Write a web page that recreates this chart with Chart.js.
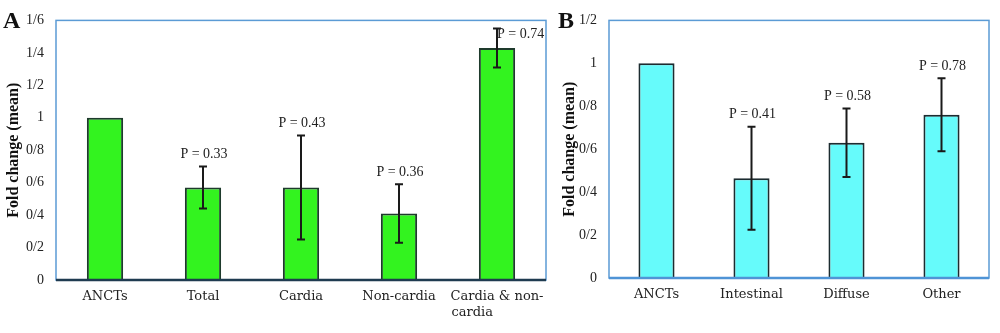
<!DOCTYPE html>
<html>
<head>
<meta charset="utf-8">
<script src="https://cdn.jsdelivr.net/npm/chart.js@4"></script>
<style>
  body { margin: 0; background: #fff; }
  .wrap { position: absolute; top: 0; height: 333px; }
  #wa { left: 0; width: 556px; }
  #wb { left: 556px; width: 444px; }
</style>
</head>
<body>
<div class="wrap" id="wa"><canvas id="chartA"></canvas></div>
<div class="wrap" id="wb"><canvas id="chartB"></canvas></div>
<script>
// panel A - tumour location
const catsA = ['ANCTs', 'Total', 'Cardia', 'Non-cardia', ['Cardia & non-', 'cardia            ']];
const meanA = [1.0, 0.57, 0.57, 0.41, 1.43];
const errA = [0, 0.13, 0.32, 0.18, 0.12];
const pA = ['', 'P = 0.33', 'P = 0.43', 'P = 0.36', 'P = 0.74'];

// panel B - histological type
const catsB = ['ANCTs', 'Intestinal', 'Diffuse', 'Other'];
const meanB = [1.0, 0.465, 0.63, 0.76];
const errB = [0, 0.24, 0.16, 0.17];
const pB = ['', 'P = 0.41', 'P = 0.58', 'P = 0.78'];

const serif = "'Liberation Serif', 'DejaVu Serif', serif";
const wide = "'DejaVu Serif', serif";
const txt = '#222';

const errPlugin = {
    id: 'errbars',
    afterDatasetsDraw(chart, args, opts) {
        const ctx = chart.ctx, y = chart.scales.y;
        const meta = chart.getDatasetMeta(0);
        const vals = chart.data.datasets[0].data;
        ctx.save();
        ctx.strokeStyle = '#1a1a1a';
        ctx.lineWidth = 2;
        meta.data.forEach((bar, i) => {
            const e = opts.errors[i];
            if (!e) return;
            const top = y.getPixelForValue(vals[i] + e), bot = y.getPixelForValue(vals[i] - e);
            ctx.beginPath();
            ctx.moveTo(bar.x, top); ctx.lineTo(bar.x, bot);
            ctx.moveTo(bar.x - 4, top); ctx.lineTo(bar.x + 4, top);
            ctx.moveTo(bar.x - 4, bot); ctx.lineTo(bar.x + 4, bot);
            ctx.stroke();
            const lab = opts.labels[i];
            if (!lab) return;
            ctx.fillStyle = txt;
            ctx.font = '14px ' + serif;
            ctx.textBaseline = 'middle';
            if (opts.inside && opts.inside[i]) {
                ctx.textAlign = 'left';
                ctx.fillText(lab, bar.x, top + 6);
            } else {
                ctx.textAlign = 'center';
                ctx.fillText(lab, bar.x + 1, top - 12);
            }
        });
        ctx.restore();
    },
    afterDraw(chart, args, opts) {
        const ctx = chart.ctx, a = chart.chartArea;
        ctx.save();
        ctx.strokeStyle = '#5b9bd5';
        ctx.lineWidth = 1.5;
        ctx.strokeRect(a.left, a.top, a.right - a.left, a.bottom - a.top);
        ctx.strokeStyle = opts.baseColor;
        ctx.lineWidth = 2.5;
        ctx.beginPath();
        ctx.moveTo(a.left, a.bottom); ctx.lineTo(a.right, a.bottom);
        ctx.stroke();
        ctx.fillStyle = '#111';
        ctx.font = 'bold 24px ' + serif;
        ctx.textAlign = 'left';
        ctx.textBaseline = 'alphabetic';
        ctx.fillText(opts.letter, opts.letterX, 28);
        ctx.restore();
    }
};

function makeChart(id, cats, vals, errs, plabs, cfg) {
    return new Chart(document.getElementById(id), {
        type: 'bar',
        data: {
            labels: cats,
            datasets: [{
                data: vals,
                backgroundColor: cfg.fill,
                borderColor: cfg.edge,
                borderWidth: 2,
                borderSkipped: 'bottom',
                categoryPercentage: 1,
                barPercentage: cfg.barPct
            }]
        },
        options: {
            responsive: true,
            maintainAspectRatio: false,
            animation: false,
            layout: { padding: { top: cfg.top, right: cfg.right, left: 0, bottom: 0 } },
            plugins: {
                legend: { display: false },
                tooltip: { enabled: false },
                errbars: { errors: errs, labels: plabs, inside: cfg.inside, baseColor: cfg.base, letter: cfg.letter, letterX: cfg.letterX }
            },
            scales: {
                x: {
                    grid: { display: false, drawTicks: false },
                    border: { display: false },
                    ticks: { color: txt, font: { family: wide, size: 13 }, padding: 9, maxRotation: 0, autoSkip: false },
                    afterFit: s => { s.height = cfg.xh; }
                },
                y: {
                    min: 0, max: cfg.max,
                    grid: { display: false, drawTicks: false },
                    border: { display: false },
                    ticks: {
                        stepSize: 0.2, color: txt, padding: 12,
                        font: { family: serif, size: 14 },
                        callback: v => String(Math.round(v * 10) / 10).replace('.', '/')
                    },
                    title: { display: true, text: 'Fold change (mean)', color: '#111', font: { family: serif, size: 16, weight: 'bold' }, padding: { top: 4, bottom: 0 } },
                    afterFit: s => { s.width = cfg.yw; }
                }
            }
        },
        plugins: [errPlugin]
    });
}

makeChart('chartA', catsA, meanA, errA, pA, {
    fill: '#33f31f', edge: '#1e3a2c', barPct: 0.37, max: 1.6,
    top: 17, right: 10, yw: 56, xh: 53, base: '#1f3b50',
    letter: 'A', letterX: 3, inside: [false, false, false, false, true]
});
makeChart('chartB', catsB, meanB, errB, pB, {
    fill: '#66fbfb', edge: '#1c2c30', barPct: 0.38, max: 1.2,
    top: 18, right: 11, yw: 53, xh: 55, base: '#4f94d6',
    letter: 'B', letterX: 2, inside: null
});
</script>
</body>
</html>
